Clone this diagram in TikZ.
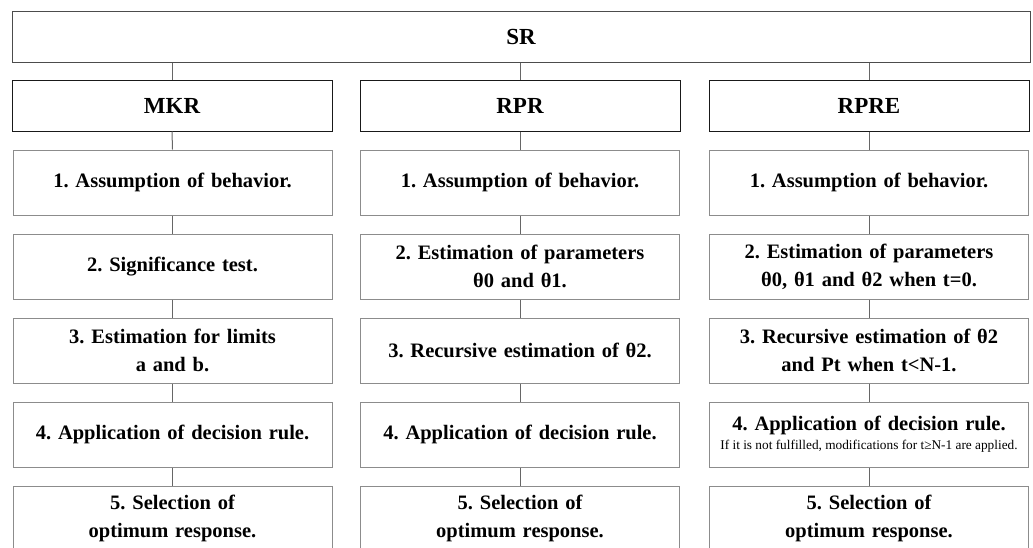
\documentclass[tikz,border=0pt]{standalone}
\usepackage{fontspec}
\setmainfont{Liberation Serif}
\frenchspacing

\begin{document}
\begin{tikzpicture}[x=1pt,y=-1pt,
  topbox/.style={draw=black!70,line width=1pt,minimum width=1018pt,minimum height=51pt,font=\bfseries\fontsize{23}{28}\selectfont},
  headbox/.style={draw=black!90,line width=1pt,minimum width=320pt,minimum height=51pt,font=\bfseries\fontsize{23}{28}\selectfont},
  stepbox/.style={draw=black!45,line width=1pt,minimum width=319pt,minimum height=65pt,text width=313pt,inner sep=3pt,align=center,font=\bfseries\fontsize{20.5}{28}\selectfont},
  link/.style={draw=black!60,line width=1pt}]
  \clip (0,0) rectangle (1033,547);

  \node [topbox] (sr) at (521, 36.5) {SR};

  \node [headbox] (mkr) at (172, 105.5) {MKR};
  \node [headbox] (rpr) at (520, 105.5) {RPR};
  \node [headbox] (rpre) at (869, 105.5) {RPRE};

  % MKR column
  \node [stepbox] (m1) at (172.5, 182.5) {1. Assumption of behavior.};
  \node [stepbox] (m2) at (172.5, 266.5) {2. Significance test.};
  \node [stepbox] (m3) at (172.5, 350.5) {3. Estimation for limits\\a and b.};
  \node [stepbox] (m4) at (172.5, 434.5) {4. Application of decision rule.};
  \node [stepbox] (m5) at (172.5, 518.5) {5. Selection of\\optimum response.};

  % RPR column
  \node [stepbox] (p1) at (520, 182.5) {1. Assumption of behavior.};
  \node [stepbox] (p2) at (520, 266.5) {2. Estimation of parameters\\θ0 and θ1.};
  \node [stepbox] (p3) at (520, 350.5) {3. Recursive estimation of θ2.};
  \node [stepbox] (p4) at (520, 434.5) {4. Application of decision rule.};
  \node [stepbox] (p5) at (520, 518.5) {5. Selection of\\optimum response.};

  % RPRE column
  \node [stepbox] (e1) at (869, 182.5) {1. Assumption of behavior.};
  \node [stepbox] (e2) at (869, 266.5) {2. Estimation of parameters\\θ0, θ1 and θ2 when t=0.};
  \node [stepbox] (e3) at (869, 350.5) {3. Recursive estimation of θ2\\and Pt when t<N-1.};
  \node [stepbox] (e4) at (869, 434.5) {4. Application of decision rule.\\[-9pt]{\mdseries\fontsize{13.3}{14}\selectfont\spaceskip=0.25em\relax\mbox{If it is not fulfilled, modifications for t≥N-1 are applied.}}};
  \node [stepbox] (e5) at (869, 518.5) {5. Selection of\\optimum response.};

  \draw [link] (sr.south -| mkr.north) -- (mkr.north);
  \draw [link] (sr.south -| rpr.north) -- (rpr.north);
  \draw [link] (sr.south -| rpre.north) -- (rpre.north);

  \draw [link] (mkr.south) -- (m1.north);
  \draw [link] (m1.south) -- (m2.north);
  \draw [link] (m2.south) -- (m3.north);
  \draw [link] (m3.south) -- (m4.north);
  \draw [link] (m4.south) -- (m5.north);

  \draw [link] (rpr.south) -- (p1.north);
  \draw [link] (p1.south) -- (p2.north);
  \draw [link] (p2.south) -- (p3.north);
  \draw [link] (p3.south) -- (p4.north);
  \draw [link] (p4.south) -- (p5.north);

  \draw [link] (rpre.south) -- (e1.north);
  \draw [link] (e1.south) -- (e2.north);
  \draw [link] (e2.south) -- (e3.north);
  \draw [link] (e3.south) -- (e4.north);
  \draw [link] (e4.south) -- (e5.north);
\end{tikzpicture}
\end{document}
